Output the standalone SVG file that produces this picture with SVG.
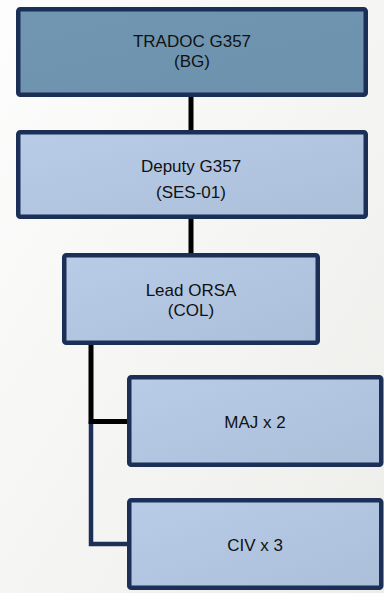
<svg xmlns="http://www.w3.org/2000/svg" width="384" height="593" viewBox="0 0 384 593">
<defs>
<linearGradient id="bg" x1="0" y1="0" x2="1" y2="1">
<stop offset="0" stop-color="#fdfdfd"/>
<stop offset="1" stop-color="#ededea"/>
</linearGradient>
<linearGradient id="light" x1="0" y1="0" x2="1" y2="1">
<stop offset="0" stop-color="#b8cce8"/>
<stop offset="1" stop-color="#abbfd9"/>
</linearGradient>
<linearGradient id="dark" x1="0" y1="0" x2="1" y2="1">
<stop offset="0" stop-color="#7096b2"/>
<stop offset="1" stop-color="#6c92ad"/>
</linearGradient>
</defs>
<style>
.box{stroke:#1b2f57;stroke-width:4.5;}
.lt{fill:url(#light);}
.dk{fill:url(#dark);}
text{font-family:"Liberation Sans",Arial,sans-serif;font-size:17px;fill:#111;text-anchor:middle;}
.blk{stroke:#000;stroke-width:5;fill:none;}
.nvy{stroke:#1b2f57;stroke-width:4.5;fill:none;}
</style>
<rect x="0" y="0" width="384" height="593" fill="url(#bg)"/>
<g id="connectors">
<line class="blk" x1="191" y1="96" x2="191" y2="131"/>
<line class="blk" x1="191" y1="218" x2="191" y2="254"/>
<path class="nvy" d="M91 421.5 V544 H128"/>
<path class="blk" d="M91 344 V421.5 H128"/>
</g>
<g id="tradoc">
<rect class="box dk" x="18.25" y="9.25" width="347.5" height="85.5" rx="2"/>
<text x="192" y="46.5">TRADOC G357</text>
<text x="192" y="67">(BG)</text>
</g>
<g id="deputy">
<rect class="box lt" x="18.25" y="132.25" width="347.5" height="84.5" rx="2"/>
<text x="191" y="171.5">Deputy G357</text>
<text x="191" y="197.5">(SES-01)</text>
</g>
<g id="lead">
<rect class="box lt" x="64.25" y="255.25" width="253.5" height="87.5" rx="2"/>
<text x="191" y="296">Lead ORSA</text>
<text x="191" y="316">(COL)</text>
</g>
<g id="maj">
<rect class="box lt" x="129.25" y="377.25" width="252" height="87.5" rx="2"/>
<text x="255" y="427.5">MAJ x 2</text>
</g>
<g id="civ">
<rect class="box lt" x="129.25" y="500.25" width="252" height="87.5" rx="2"/>
<text x="255" y="550.5">CIV x 3</text>
</g>
</svg>
